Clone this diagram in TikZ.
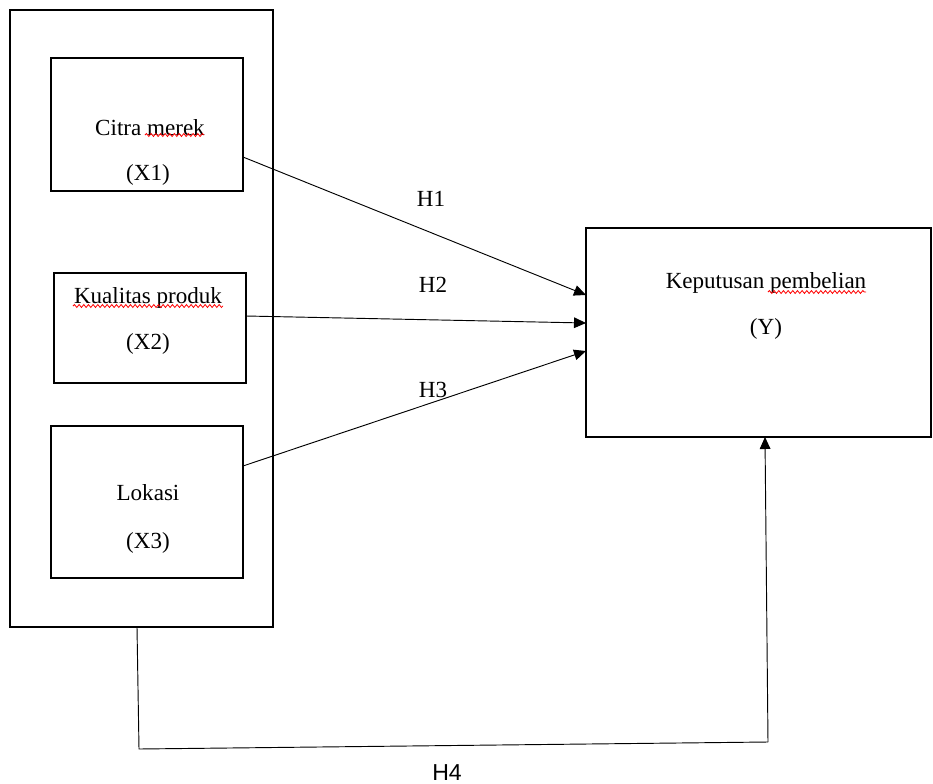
\documentclass[tikz,border=0pt]{standalone}
\usepackage{fontspec}
\setmainfont{Liberation Serif}
\newfontfamily\arialf{Liberation Sans}
\usetikzlibrary{arrows.meta,decorations.pathmorphing}
\begin{document}
\begin{tikzpicture}[x=0.75pt,y=-0.75pt,
  box/.style={draw=black,line width=0.8pt,inner sep=0pt},
  lbl/.style={font=\fontsize{17.3}{20}\selectfont,inner sep=0pt,anchor=base},
  conn/.style={line width=0.7pt,-{Triangle[length=9pt,width=8pt]}},
  plain/.style={line width=0.7pt},
  squig/.style={red,line width=0.6pt,decorate,decoration={snake,amplitude=1.1pt,segment length=3.5pt}}]
\useasboundingbox (0,0) rectangle (933,783);
% boxes
\draw[box] (10,10) rectangle (273,627);
\coordinate (outer) at (10,10);
\node[box,minimum width=192*0.75pt,minimum height=133*0.75pt] (x1) at (147,124.5) {};
\node[box,minimum width=192*0.75pt,minimum height=110*0.75pt] (x2) at (150,328) {};
\node[box,minimum width=192*0.75pt,minimum height=152*0.75pt] (x3) at (147,502) {};
\node[box,minimum width=345*0.75pt,minimum height=209*0.75pt] (y) at (758.5,332.5) {};
% texts
\node[lbl] (t1) at (150,135) {Citra merek};
\node[lbl] (t1b) at (148,180) {(X1)};
\node[lbl] (t2) at (148,303) {Kualitas produk};
\node[lbl] (t2b) at (148,349) {(X2)};
\node[lbl] (t3) at (148,500) {Lokasi};
\node[lbl] (t3b) at (148,548) {(X3)};
\node[lbl] (ty) at (766,288) {Keputusan pembelian};
\node[lbl] (tyb) at (766,334) {(Y)};
\node[lbl] (h1) at (431,206) {H1};
\node[lbl] (h2) at (433,292) {H2};
\node[lbl] (h3) at (433,397) {H3};
\node[lbl,font=\arialf\fontsize{17.3}{20}\selectfont] (h4) at (447,780) {H4};
% spell-check squiggles
\draw[squig] (145,135) -- (204,135);
\draw[squig] (73,306) -- (223,306);
\draw[squig] (768,292) -- (866,292);
% connector anchor points
\coordinate (s1) at (243,157);
\coordinate (e1) at (586,295);
\coordinate (s2) at (246,316);
\coordinate (e2) at (586,323);
\coordinate (s3) at (243,466);
\coordinate (e3) at (586,351);
\coordinate (b0) at (137,627);
\coordinate (b1) at (139,749);
\coordinate (b2) at (768,742);
\coordinate (e4) at (765,437);
\draw[conn] (s1) -- (e1);
\draw[conn] (s2) -- (e2);
\draw[conn] (s3) -- (e3);
\draw[plain] (b0) -- (b1) -- (b2);
\draw[conn] (b2) -- (e4);
\end{tikzpicture}
\end{document}
